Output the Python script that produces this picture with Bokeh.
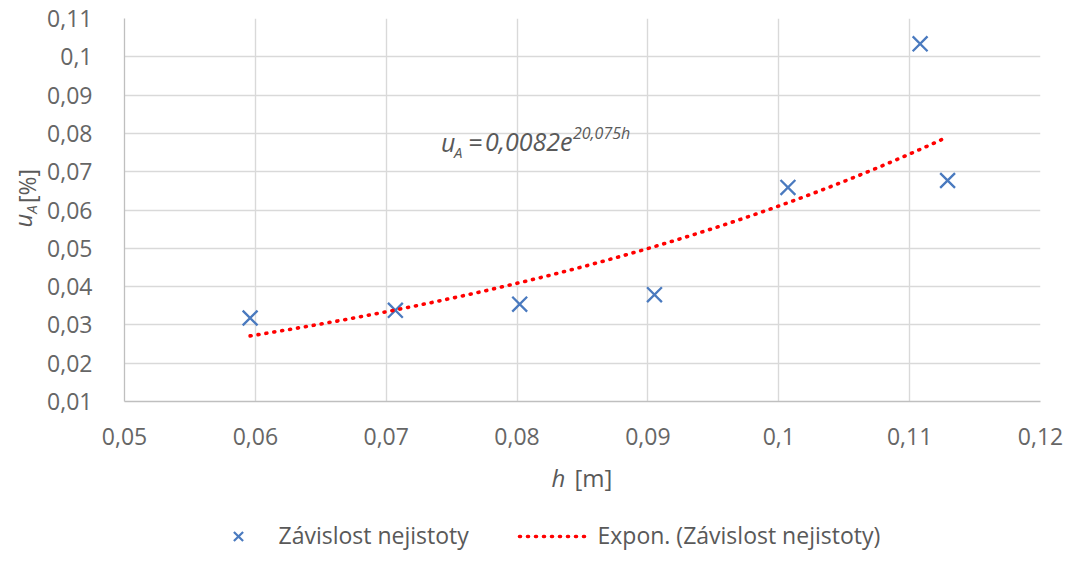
import numpy as np
from bokeh.plotting import figure
from bokeh.models import Range1d, FixedTicker, CustomJSTickFormatter, Label
from bokeh.layouts import row, column
from bokeh.core.properties import value
from bokeh.embed import file_html
from bokeh.resources import INLINE

# ---- data ----
h = [0.0596, 0.0707, 0.0802, 0.0905, 0.1007, 0.1108, 0.1129]
u_A = [0.0318, 0.0338, 0.0354, 0.0379, 0.0659, 0.1034, 0.0677]
fit_a = 0.0082
fit_b = 20.075
x_ticks = [0.05, 0.06, 0.07, 0.08, 0.09, 0.10, 0.11, 0.12]
y_ticks = [0.01, 0.02, 0.03, 0.04, 0.05, 0.06, 0.07, 0.08, 0.09, 0.10, 0.11]
series_name = "Závislost nejistoty"
trend_name = "Expon. (Závislost nejistoty)"

FONT = "Open Sans"
TXT = "#595959"
TICK = "#666666"
BLUE = "#4a7abf"
RED = "#ff0000"

TOTAL_W, TOTAL_H = 1064, 550
LEFT_W = 44
MAIN_H = 455
BOTTOM_H = TOTAL_H - MAIN_H
BASE_FIX = 0.4  # empirical shift (in em) of alphabetic baseline in the svg output

# ---------------- main chart ----------------
p = figure(width=TOTAL_W - LEFT_W, height=MAIN_H, output_backend="svg",
           toolbar_location=None, title=None,
           x_range=Range1d(0.05, 0.12), y_range=Range1d(0.01, 0.11),
           min_border_left=118 - LEFT_W, min_border_right=24,
           min_border_top=18, min_border_bottom=MAIN_H - 401)
p.outline_line_color = None

fmt = CustomJSTickFormatter(code="return (Math.round(tick*100)/100).toString().replace('.', ',');")
for ax in (p.xaxis[0], p.yaxis[0]):
    ax.formatter = fmt
    ax.major_tick_line_color = None
    ax.minor_tick_line_color = None
    ax.axis_line_color = "#bfbfbf"
    ax.axis_line_width = 1.3
    ax.major_label_text_font = FONT
    ax.major_label_text_font_size = "23px"
    ax.major_label_text_color = TICK
p.xaxis[0].ticker = FixedTicker(ticks=x_ticks)
p.yaxis[0].ticker = FixedTicker(ticks=y_ticks)
p.xaxis[0].major_label_standoff = 20
p.yaxis[0].major_label_standoff = 26
p.xgrid[0].ticker = FixedTicker(ticks=x_ticks)
p.ygrid[0].ticker = FixedTicker(ticks=y_ticks)
p.grid.grid_line_color = "#d9d9d9"
p.grid.grid_line_width = 1.4

p.scatter(h, u_A, marker="x", size=21, line_color=BLUE, line_width=2.3)
hx = np.linspace(min(h), max(h), 200)
p.line(hx, fit_a * np.exp(fit_b * hx), line_color=RED, line_width=3.6,
       line_dash="1 7", line_cap="round")

# equation label (anchored in data space, pieces offset in pixels)
def dx(px):
    return 0.05 + (px - 118) / (1050 - 118) * 0.07

def dy(py):
    return 0.01 + (401 - py) / (401 - 18) * 0.10

EQ_X = dx(440)
for txt, off, py, size in [("u", 0, 151, 25), ("A", 13, 157, 15),
                           ("=", 27, 151, 25), ("0,0082e", 44, 151, 25),
                           ("20,075h", 132, 139, 16)]:
    p.add_layout(Label(x=EQ_X, y=dy(py - BASE_FIX * size), x_offset=off, text=txt,
                       text_font=FONT, text_font_size=f"{size}px",
                       text_font_style="italic", text_color=TXT,
                       text_baseline="alphabetic"))

# ---------------- helper strips for titles / legend ----------------
def blank(w, hgt):
    f = figure(width=w, height=hgt, output_backend="svg", toolbar_location=None,
               title=None, x_range=Range1d(0, w), y_range=Range1d(0, hgt),
               min_border=0, min_border_left=0, min_border_right=0,
               min_border_top=0, min_border_bottom=0,
               x_axis_location=None, y_axis_location=None)
    f.grid.visible = False
    f.outline_line_color = None
    return f

left = blank(LEFT_W, MAIN_H)
def ltxt(t, cx, cy, size, style="normal"):
    left.text(x=[cx], y=[MAIN_H - cy], text=[t], text_font=value(FONT),
              text_font_size=value(f"{size}px"), text_font_style=style,
              text_color=TXT, text_baseline="middle", text_align="center",
              angle=np.pi / 2)
ltxt("u", 22, 240, 24, "italic")
ltxt("A", 30, 227, 15, "italic")
ltxt("[%]", 26, 199, 23)

bot = blank(TOTAL_W, BOTTOM_H)
def btxt(t, px, py, size, style="normal"):
    bot.text(x=[px], y=[TOTAL_H - (py - BASE_FIX * size)], text=[t],
             text_font=value(FONT), text_font_size=value(f"{size}px"),
             text_font_style=style, text_color=TXT,
             text_baseline="alphabetic", text_align="left")
btxt("h", 551, 487, 24, "italic")
btxt("[m]", 574, 487, 24)

LEG_Y = TOTAL_H - 536
bot.scatter([238], [LEG_Y], marker="x", size=13, line_color=BLUE, line_width=2.2)
btxt(series_name, 278, 544, 23)
bot.line([519, 589], [LEG_Y, LEG_Y], line_color=RED, line_width=3.6,
         line_dash="1 7", line_cap="round")
btxt(trend_name, 597, 544, 23)

layout = column(row(left, p, spacing=0), bot, spacing=0)
open("out.html", "w").write(file_html(layout, INLINE))
